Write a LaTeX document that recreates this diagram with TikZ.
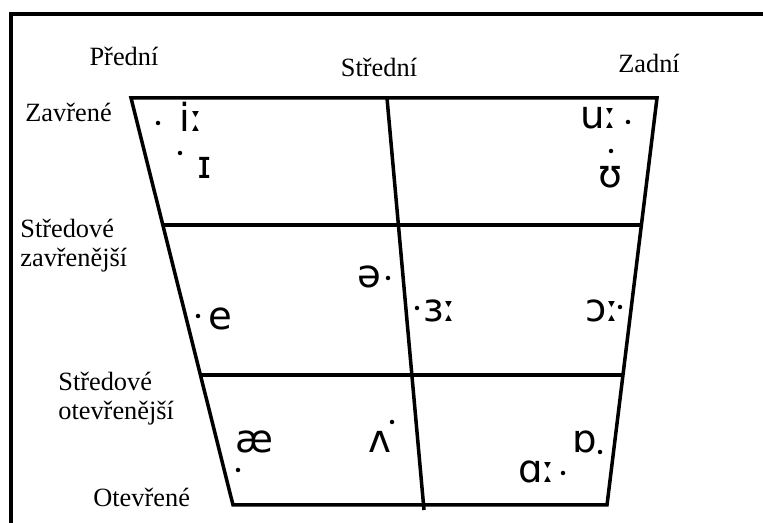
\documentclass[tikz,border=0pt]{standalone}
\usepackage{fontspec}
\setmainfont{Liberation Serif}
\newfontfamily\ipafont{DejaVu Sans}
\usetikzlibrary{calc}

\begin{document}
\begin{tikzpicture}[x=1cm,y=1cm,
    chart/.style={line width=2pt},
    collabel/.style={anchor=base,inner sep=0,font=\fontsize{15}{17}\selectfont},
    rowlabel/.style={anchor=west,inner sep=0,align=left,
      font=\fontsize{15}{16.5}\selectfont},
    vowel/.style={anchor=base west,inner sep=0,
      font=\ipafont\fontsize{22}{24}\selectfont}]
  \path[use as bounding box] (0,0) rectangle (15.26,10.46);
  \draw[chart] (.22,0) -- (.22,10.18) -- (15.26,10.18);
  % corners of the vowel chart
  \coordinate (tl) at (2.62,8.5);
  \coordinate (tr) at (13.14,8.5);
  \coordinate (bl) at (4.66,.36);
  \coordinate (br) at (12.14,.36);
  \coordinate (mt) at (7.74,8.5);
  \coordinate (mb) at (8.48,.26);
  \draw[chart] (tl) -- (tr) -- (br) -- (bl) -- cycle;
  \draw[chart] (mt) -- (mb);
  \foreach \t in {.312,.681}{
    \draw[chart] ($(tl)!\t!(bl)$) -- ($(tr)!\t!(br)$);
  }
  % column and row labels
  \node[collabel] (front) at (2.48,9.14) {Přední};
  \node[collabel] (central) at (7.58,8.92) {Střední};
  \node[collabel] (back) at (12.98,9.0) {Zadní};
  \node[rowlabel,anchor=base west] (close) at (.5,8.02) {Zavřené};
  \node[rowlabel] (closemid) at (.4,5.54) {Středové\\zavřenější};
  \node[rowlabel] (openmid) at (1.16,2.48) {Středové\\otevřenější};
  \node[rowlabel,anchor=base west] (open) at (1.86,.32) {Otevřené};
  % vowels
  \foreach \name/\x/\y/\ipa in {iLong/3.58/7.82/iː,iShort/3.94/6.88/ɪ,
      uLong/11.6/7.88/uː,uShort/11.96/6.7/ʊ,eShort/4.16/3.86/e,
      schwa/7.14/4.7/ə,erLong/8.46/4.02/ɜː,orLong/11.7/4.02/ɔː,
      ash/4.7/1.4/æ,wedge/7.36/1.4/ʌ,oShort/11.44/1.4/ɒ,aLong/10.36/.8/ɑː}{
    \node[vowel] (\name) at (\x,\y) {\ipa};
  }
  \foreach \x/\y in {3.16/8.0,3.6/7.4,12.56/8.02,12.22/7.44,3.96/4.14,
      7.76/4.9,8.34/4.3,12.4/4.32,4.76/1.06,7.84/2.02,12.0/1.42,11.26/1.0}{
    \fill (\x,\y) circle (.045);
  }
\end{tikzpicture}
\end{document}
